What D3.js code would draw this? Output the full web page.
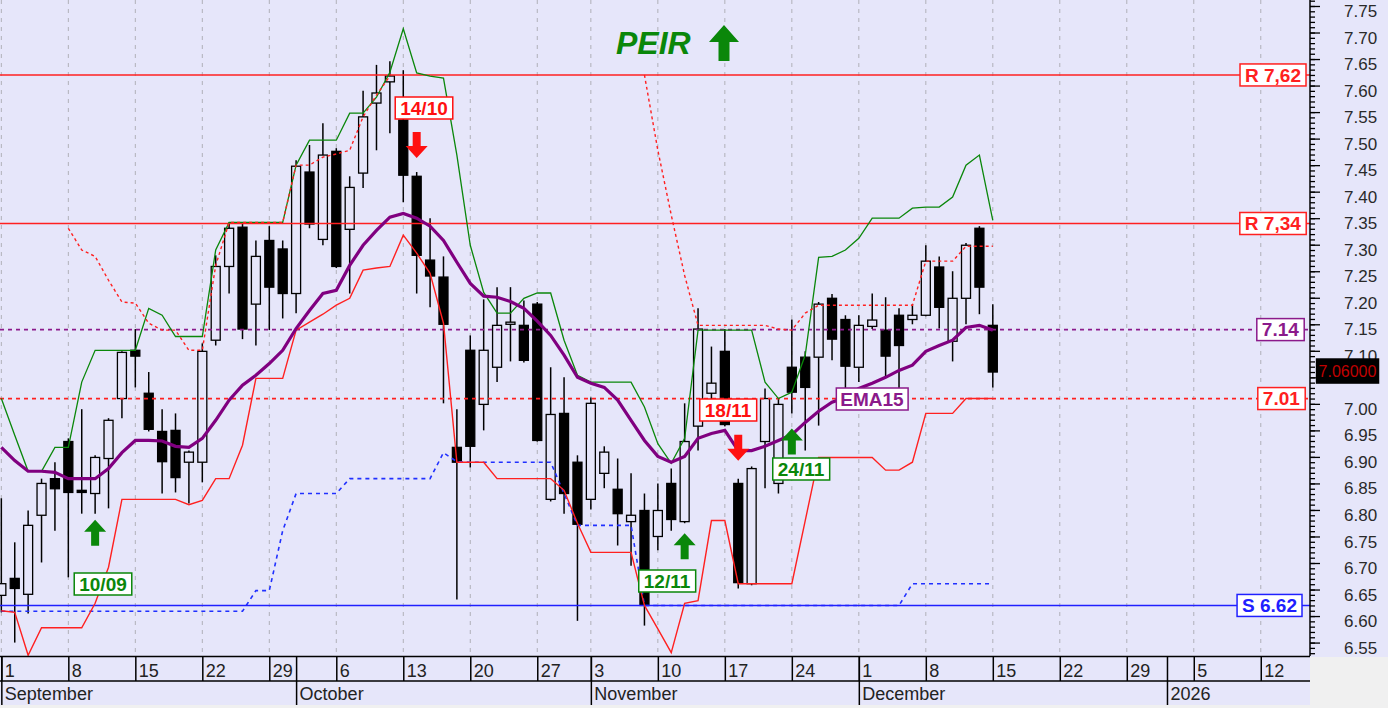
<!DOCTYPE html>
<html>
<head>
<meta charset="utf-8">
<script src="https://d3js.org/d3.v7.min.js"></script>
<style>
  body { margin: 0; background: #f0f0f0; }
  svg { display: block; font-family: "Liberation Sans", Arial, sans-serif; }
</style>
</head>
<body>
<div id="chart"></div>
<script>
// trading days (Athens, 28 Oct closed)
var dates = ["2025-09-01","2025-09-02","2025-09-03","2025-09-04","2025-09-05","2025-09-08","2025-09-09","2025-09-10","2025-09-11","2025-09-12",
  "2025-09-15","2025-09-16","2025-09-17","2025-09-18","2025-09-19","2025-09-22","2025-09-23","2025-09-24","2025-09-25","2025-09-26",
  "2025-09-29","2025-09-30","2025-10-01","2025-10-02","2025-10-03","2025-10-06","2025-10-07","2025-10-08","2025-10-09","2025-10-10",
  "2025-10-13","2025-10-14","2025-10-15","2025-10-16","2025-10-17","2025-10-20","2025-10-21","2025-10-22","2025-10-23","2025-10-24",
  "2025-10-27","2025-10-29","2025-10-30","2025-10-31","2025-11-03","2025-11-04","2025-11-05","2025-11-06","2025-11-07","2025-11-10",
  "2025-11-11","2025-11-12","2025-11-13","2025-11-14","2025-11-17","2025-11-18","2025-11-19","2025-11-20","2025-11-21","2025-11-24",
  "2025-11-25","2025-11-26","2025-11-27","2025-11-28","2025-12-01","2025-12-02","2025-12-03","2025-12-04","2025-12-05","2025-12-08",
  "2025-12-09","2025-12-10","2025-12-11","2025-12-12","2025-12-15"];

var open = [6.639,6.671,6.641,6.790,6.859,6.929,6.837,6.831,6.897,7.010,
  7.101,7.020,6.948,6.950,6.890,6.890,7.120,7.259,7.333,7.188,
  7.308,7.292,7.208,7.437,7.310,7.476,7.329,7.435,7.567,7.607,
  7.535,7.429,7.271,7.239,6.918,7.101,6.999,7.069,7.150,7.148,
  7.188,6.820,6.982,6.890,6.820,6.869,6.839,6.778,6.799,6.750,
  6.850,6.778,6.958,7.020,7.099,6.850,6.661,6.929,6.850,7.069,
  7.088,7.088,7.199,7.159,7.069,7.146,7.139,7.167,7.159,7.167,
  7.258,7.118,7.199,7.331,7.148];
var high = [6.822,6.739,6.799,6.859,6.890,6.935,6.990,6.903,6.973,7.099,
  7.141,7.060,6.990,6.982,6.912,7.114,7.280,7.342,7.342,7.308,
  7.335,7.308,7.459,7.488,7.529,7.482,7.429,7.590,7.639,7.646,
  7.629,7.437,7.350,7.278,6.990,7.129,7.197,7.220,7.220,7.195,
  7.192,7.069,7.050,6.903,7.012,6.920,6.897,6.869,6.831,6.850,
  6.878,7.001,7.180,7.108,7.141,6.859,6.882,7.029,7.010,7.159,
  7.099,7.192,7.207,7.167,7.167,7.208,7.201,7.180,7.188,7.299,
  7.278,7.250,7.303,7.335,7.188];
var low = [6.607,6.550,6.605,6.701,6.761,6.673,6.793,6.793,6.803,6.973,
  7.031,6.948,6.831,6.833,6.812,6.852,7.110,7.208,7.122,7.110,
  7.139,7.161,7.171,7.331,7.299,7.256,7.208,7.407,7.478,7.510,
  7.380,7.208,7.182,7.001,6.631,6.880,6.950,7.041,7.080,7.078,
  6.929,6.816,6.793,6.591,6.801,6.841,6.733,6.695,6.582,6.724,
  6.761,6.775,6.912,7.001,6.958,6.652,6.658,6.841,6.831,6.982,
  6.912,6.959,7.082,7.027,7.041,7.141,7.050,7.029,7.150,7.165,
  7.142,7.080,7.150,7.169,7.031];
var close = [6.661,6.652,6.771,6.850,6.840,6.833,6.833,6.899,6.969,7.097,
  7.090,6.952,6.891,6.861,6.909,7.099,7.259,7.331,7.141,7.278,
  7.220,7.208,7.448,7.339,7.469,7.259,7.408,7.541,7.586,7.618,
  7.431,7.280,7.241,7.150,6.890,6.920,7.101,7.148,7.154,7.082,
  6.931,6.980,6.831,6.773,7.001,6.909,6.793,6.790,6.620,6.799,
  6.782,6.929,7.141,7.039,6.961,6.663,6.878,7.010,6.999,7.022,
  7.031,7.188,7.122,7.071,7.148,7.158,7.090,7.110,7.167,7.269,
  7.182,7.199,7.299,7.220,7.060];

var ema15 = [6.918,6.893,6.873,6.873,6.871,6.859,6.859,6.859,6.878,6.908,
  6.931,6.931,6.930,6.920,6.918,6.935,6.969,7.007,7.035,7.054,
  7.076,7.101,7.142,7.176,7.208,7.214,7.261,7.299,7.327,7.352,
  7.359,7.350,7.335,7.308,7.267,7.227,7.203,7.201,7.193,7.180,
  7.156,7.129,7.092,7.050,7.039,7.031,7.007,6.969,6.931,6.901,
  6.890,6.901,6.935,6.944,6.950,6.912,6.912,6.920,6.931,6.942,
  6.965,6.986,7.003,7.012,7.029,7.039,7.050,7.063,7.073,7.099,
  7.110,7.120,7.144,7.148,7.139];
// green channel (upper)
var upperBand = [7.010,6.941,6.873,6.873,6.918,6.918,7.041,7.101,7.101,7.101,
  7.101,7.180,7.167,7.127,7.127,7.127,7.290,7.342,7.342,7.342,
  7.342,7.342,7.450,7.497,7.497,7.497,7.548,7.548,7.578,7.625,
  7.707,7.624,7.618,7.614,7.469,7.299,7.210,7.171,7.171,7.199,
  7.209,7.209,7.120,7.054,7.041,7.041,7.041,7.041,6.994,6.925,
  6.888,6.935,7.139,7.139,7.139,7.139,7.139,7.041,7.010,7.022,
  7.092,7.276,7.278,7.290,7.312,7.350,7.350,7.350,7.369,7.371,
  7.371,7.390,7.450,7.469,7.346];
// red channel (lower)
var lowerBand = [6.610,6.607,6.526,6.578,6.578,6.578,6.578,6.624,6.692,6.820,
  6.820,6.820,6.820,6.820,6.810,6.818,6.859,6.859,6.922,7.048,
  7.048,7.048,7.139,7.154,7.169,7.186,7.199,7.252,7.256,7.259,
  7.318,7.284,7.246,7.152,6.890,6.890,6.890,6.859,6.859,6.859,
  6.859,6.859,6.837,6.775,6.720,6.720,6.720,6.720,6.620,6.576,
  6.531,6.624,6.629,6.780,6.780,6.661,6.661,6.661,6.661,6.661,
  6.780,6.899,6.899,6.899,6.899,6.899,6.875,6.875,6.890,6.982,
  6.982,6.982,7.010,7.010,7.010];
// red dotted stop (upper)
var stopHigh = [null,null,null,null,null,7.331,7.290,7.278,7.233,7.192,
  7.190,7.152,7.139,7.139,7.101,7.101,7.261,7.342,7.342,7.342,
  7.342,7.342,7.450,7.450,7.465,7.471,7.478,7.541,7.582,7.618,
  null,null,null,null,null,null,null,null,null,null,
  null,null,null,null,null,null,null,null,7.620,7.478,
  7.356,7.242,7.148,7.148,7.148,7.148,7.148,7.148,7.141,7.139,
  7.171,7.186,7.186,7.186,7.186,7.186,7.186,7.186,7.186,7.269,
  7.269,7.269,7.297,7.297,7.297];
// blue dotted stop (lower)
var stopLow = [6.609,6.609,6.609,6.609,6.609,6.609,6.609,6.609,6.609,6.609,
  6.609,6.609,6.609,6.609,6.609,6.609,6.609,6.609,6.609,6.648,
  6.648,6.761,6.831,6.831,6.831,6.831,6.859,6.859,6.859,6.859,
  6.859,6.859,6.859,6.908,6.891,6.890,6.890,6.890,6.890,6.890,
  6.890,6.890,6.831,6.771,6.771,6.771,6.771,6.771,6.620,6.620,
  6.620,6.620,6.620,6.620,6.620,6.620,6.620,6.620,6.620,6.620,
  6.620,6.620,6.620,6.620,6.620,6.620,6.620,6.620,6.661,6.661,
  6.661,6.661,6.661,6.661,6.661];

// horizontal levels
var levelValues = [7.62, 7.34, 7.14, 7.01, 6.62];
var levelLabels = ["R 7,62", "R 7,34", "7.14", "7.01", "S 6.62"];
var levelColors = ["#ff2020", "#ff2020", "#8b1a8b", "#ff2020", "#2020ff"];
var levelDashed = [false, false, true, true, false];

// signals
var signalIdx = [7, 31, 51, 55, 59];
var signalType = ["buy", "sell", "buy", "sell", "buy"];
var signalLabels = ["10/09", "14/10", "12/11", "18/11", "24/11"];

// x axis: week starts and month starts (index on the trading day axis)
var weekIdx = [0, 5, 10, 15, 20, 25, 30, 35, 40, 44, 49, 54, 59, 64, 69, 74, 79, 84, 89, 94];
var weekLabels = ["1","8","15","22","29","6","13","20","27","3","10","17","24","1","8","15","22","29","5","12"];
var monthIdx = [0, 22, 44, 64, 87];
var monthLabels = ["September", "October", "November", "December", "2026"];
var priceTicks = d3.range(6.55, 7.7501, 0.05);
var priceMinor = d3.range(6.53, 7.7601, 0.01);
var lastPrice = 7.06;

// layout (pixels)
var W = 1388, H = 708, plotW = 1310, plotH = 656;
var bg = "#e6e6fa";
var signalGap = [6, 14, 10, 18, 15];
var signalBoxX = [103, 424, 667, 728, 801];
var signalBoxY = [584, 108, 581, 410, 469];

var x = d3.scaleLinear().domain([-0.1, 97.6]).range([0, 1309]);
var y = d3.scaleLinear().domain([6.5247, 7.7613]).range([plotH, 0]);

var svg = d3.select("#chart").append("svg")
    .attr("width", W)
    .attr("height", H);

svg.append("rect").attr("width", W).attr("height", H).attr("fill", "#f0f0f0");
svg.append("rect").attr("width", W).attr("height", plotH + 1).attr("fill", bg);
svg.append("rect").attr("y", plotH).attr("width", plotW).attr("height", 49).attr("fill", bg);

svg.append("clipPath").attr("id", "plot")
  .append("rect").attr("width", plotW).attr("height", plotH);

// vertical grid at each Monday
svg.append("g").selectAll("line")
  .data(weekIdx)
  .enter().append("line")
    .attr("x1", d => x(d)).attr("x2", d => x(d))
    .attr("y1", 0).attr("y2", plotH)
    .attr("stroke", "#b0b0b8")
    .attr("stroke-dasharray", "4,5");

var plot = svg.append("g").attr("clip-path", "url(#plot)");

// candles
var candles = plot.append("g").selectAll("g")
  .data(d3.range(open.length))
  .enter().append("g");

candles.append("line")
  .attr("x1", i => x(i)).attr("x2", i => x(i))
  .attr("y1", i => y(high[i])).attr("y2", i => y(low[i]))
  .attr("stroke", "#000").attr("stroke-width", 1.5);

candles.append("rect")
  .attr("x", i => x(i) - 4.5)
  .attr("width", 9)
  .attr("y", i => y(Math.max(open[i], close[i])))
  .attr("height", i => Math.max(1, Math.abs(y(open[i]) - y(close[i]))))
  .attr("fill", i => close[i] < open[i] ? "#000" : bg)
  .attr("stroke", "#000").attr("stroke-width", 1.3);

// indicator lines
function path(values, color, width, dash) {
  var line = d3.line()
    .defined(d => d != null)
    .x((d, i) => x(i))
    .y(d => y(d));
  plot.append("path")
    .datum(values)
    .attr("d", line)
    .attr("fill", "none")
    .attr("stroke", color)
    .attr("stroke-width", width)
    .attr("stroke-dasharray", dash || null);
}

path(stopLow, "#2030ff", 1.6, "4,4");

// horizontal levels
levelValues.forEach(function(v, k) {
  plot.append("line")
    .attr("x1", 0).attr("x2", plotW)
    .attr("y1", y(v)).attr("y2", y(v))
    .attr("stroke", levelColors[k])
    .attr("stroke-width", levelDashed[k] ? 1.7 : 1.5)
    .attr("stroke-dasharray", levelDashed[k] ? "4,4" : null);
});

path(upperBand, "#0a870a", 1.3);
path(lowerBand, "#ff2020", 1.4);
path(stopHigh, "#ff2020", 1.4, "3,3");
path(ema15, "#800080", 3.2);

// axes
var right = svg.append("g").attr("transform", "translate(" + plotW + ",0)");
right.append("g")
  .call(d3.axisRight(y).tickValues(priceMinor).tickSize(5).tickFormat(""))
  .call(g => g.select(".domain").remove());
right.append("g")
  .call(d3.axisRight(y).tickValues(priceTicks).tickSize(10).tickFormat(d3.format(".2f")))
  .call(g => g.select(".domain").attr("stroke-width", 1.5).attr("d", "M0,0V" + plotH))
  .call(g => g.selectAll("text")
      .attr("x", 34).attr("dy", "0.62em")
      .attr("font-size", 17).attr("fill", "#2a2a2a")
      .attr("font-family", "Liberation Sans, Arial, sans-serif"))
  // the 7.05 label sits under the last-price marker
  .call(g => g.selectAll(".tick text").filter(d => Math.abs(d - 7.05) < 1e-6).remove());
right.selectAll(".tick line").attr("stroke", "#000").attr("stroke-width", 1.3);

var bottom = svg.append("g").attr("transform", "translate(0," + plotH + ")");
bottom.append("line").attr("x1", 0).attr("x2", plotW).attr("y1", 0.5).attr("y2", 0.5)
  .attr("stroke", "#000").attr("stroke-width", 1.5);
bottom.append("line").attr("x1", 0).attr("x2", plotW).attr("y1", 25).attr("y2", 25)
  .attr("stroke", "#000").attr("stroke-width", 1.5);

bottom.append("g")
  .call(d3.axisBottom(x).tickValues(weekIdx).tickSize(25).tickFormat((d, i) => weekLabels[i]))
  .call(g => g.select(".domain").remove())
  .call(g => g.selectAll("text")
      .attr("text-anchor", "start").attr("x", 3).attr("y", 21).attr("dy", null)
      .attr("font-size", 18).attr("fill", "#222")
      .attr("font-family", "Liberation Sans, Arial, sans-serif"));
bottom.append("g")
  .call(d3.axisBottom(x).tickValues(monthIdx).tickSize(49).tickFormat((d, i) => monthLabels[i]))
  .call(g => g.select(".domain").remove())
  .call(g => g.selectAll("text")
      .attr("text-anchor", "start").attr("x", 3).attr("y", 44).attr("dy", null)
      .attr("font-size", 18).attr("fill", "#222")
      .attr("font-family", "Liberation Sans, Arial, sans-serif"));
bottom.selectAll(".tick line").attr("stroke", "#000").attr("stroke-width", 1.5);

// boxed labels
function box(cx, cy, text, color, opts) {
  opts = opts || {};
  var g = svg.append("g");
  var t = g.append("text")
    .attr("x", cx).attr("y", cy)
    .attr("text-anchor", "middle")
    .attr("dy", "0.36em")
    .attr("font-size", opts.size || 19)
    .attr("font-weight", opts.weight || "bold")
    .attr("fill", opts.textColor || color)
    .text(text);
  var bb = t.node().getBBox();
  var padX = opts.padX || 5;
  g.insert("rect", "text")
    .attr("x", bb.x - padX).attr("y", cy - (opts.h || 22) / 2)
    .attr("width", bb.width + padX * 2).attr("height", opts.h || 22)
    .attr("fill", opts.fill || "#fff")
    .attr("stroke", color).attr("stroke-width", 1.5);
  return g;
}

var levelBoxRight = [1306, 1306, 1304, 1305, 1302];
levelValues.forEach(function(v, k) {
  var g = box(0, y(v), levelLabels[k], levelColors[k]);
  var r = g.select("rect"), w = +r.attr("width");
  g.attr("transform", "translate(" + (levelBoxRight[k] - w / 2) + ",0)");
});

box(1347.5, y(lastPrice) - 1, "7.06000", "#000", { fill: "#000", textColor: "#c00000", size: 16, weight: "normal", padX: 2, h: 24 });
box(872, 399, "EMA15", "#8b1a8b", { padX: 4 });

// signal arrows and labels
function arrowPath(cx, tip, dir, w, hh, sw, h) {
  var s = dir === "up" ? 1 : -1;
  return "M" + cx + "," + tip +
    "L" + (cx + w / 2) + "," + (tip + s * hh) +
    "L" + (cx + sw / 2) + "," + (tip + s * hh) +
    "L" + (cx + sw / 2) + "," + (tip + s * h) +
    "L" + (cx - sw / 2) + "," + (tip + s * h) +
    "L" + (cx - sw / 2) + "," + (tip + s * hh) +
    "L" + (cx - w / 2) + "," + (tip + s * hh) + "Z";
}

signalIdx.forEach(function(i, k) {
  var buy = signalType[k] === "buy";
  var color = buy ? "#0a870a" : "#ff1010";
  var tip = buy ? y(low[i]) + signalGap[k] : y(high[i]) - signalGap[k];
  svg.append("path")
    .attr("d", arrowPath(x(i), tip, buy ? "up" : "down", 22, 12, 8, 26))
    .attr("fill", color);
  box(signalBoxX[k], signalBoxY[k], signalLabels[k], color);
});

// title
svg.append("text")
  .attr("x", 616).attr("y", 54)
  .attr("font-size", 32).attr("font-weight", "bold").attr("font-style", "italic")
  .attr("fill", "#0a870a")
  .text("PEIR");
svg.append("path")
  .attr("d", arrowPath(724, 25, "up", 30, 17, 11, 36))
  .attr("fill", "#0a870a");
</script>
</body>
</html>
